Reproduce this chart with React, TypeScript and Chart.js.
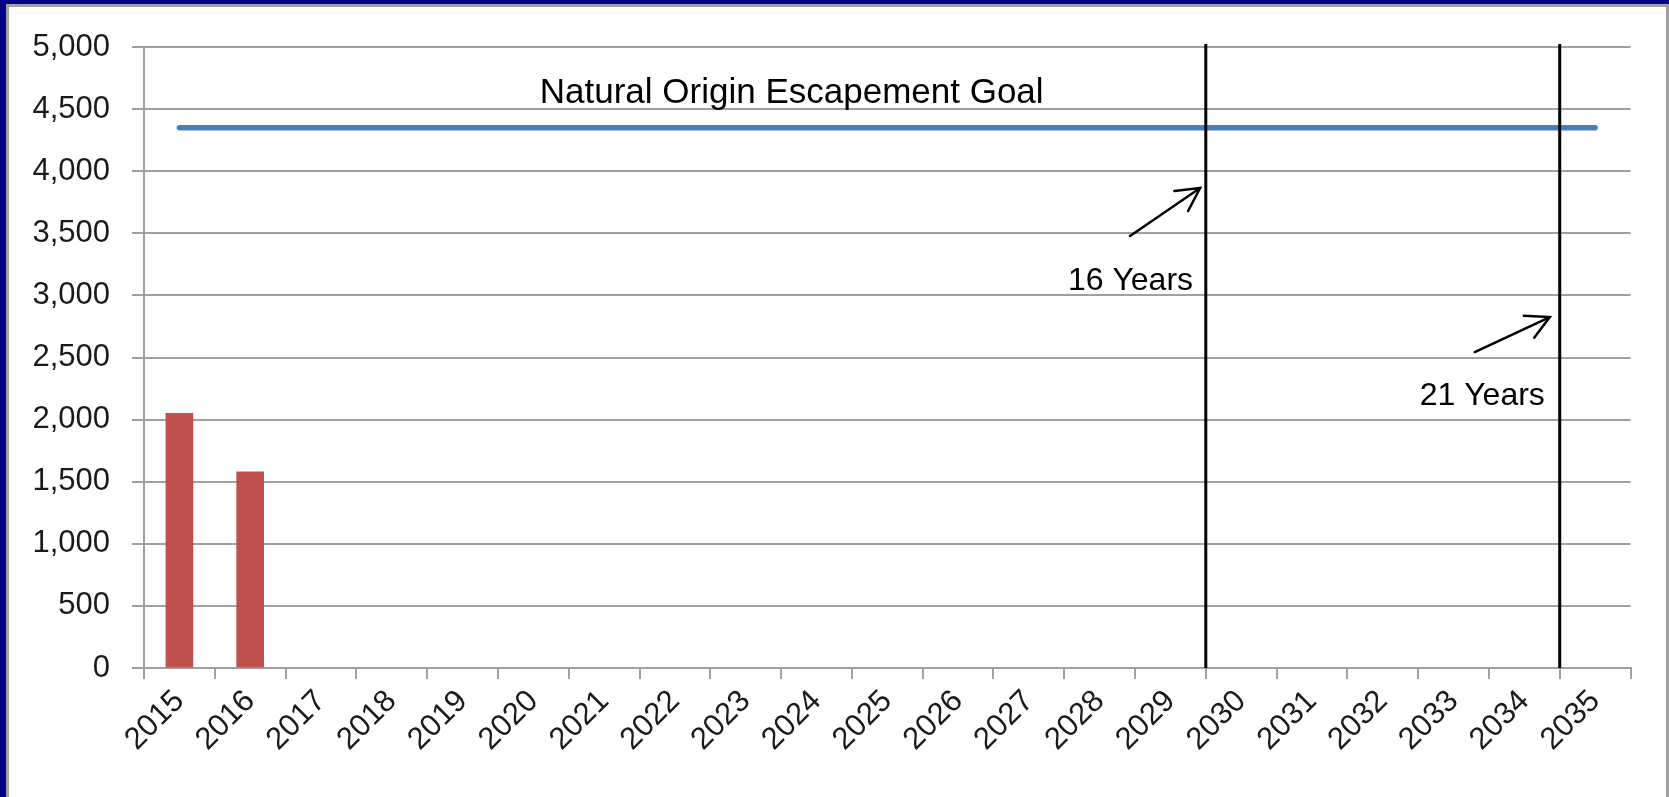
import React, { useEffect, useRef } from 'react';
import { Chart, registerables } from 'chart.js';

Chart.register(...registerables);

// ---- data ----
const years = [
  '2015', '2016', '2017', '2018', '2019', '2020', '2021', '2022', '2023', '2024', '2025',
  '2026', '2027', '2028', '2029', '2030', '2031', '2032', '2033', '2034', '2035',
];
const escapement = [
  2050, 1580, null, null, null, null, null, null, null, null, null,
  null, null, null, null, null, null, null, null, null, null,
];
const goal = [
  4350, 4350, 4350, 4350, 4350, 4350, 4350, 4350, 4350, 4350, 4350,
  4350, 4350, 4350, 4350, 4350, 4350, 4350, 4350, 4350, 4350,
];
const yMin = 0;
const yMax = 5000;
const yStep = 500;

// milestone boundaries (category index space): before 2030 and before 2035
const milestoneX = [14.5, 19.5];
const milestoneY = [0, 5025];
const milestoneLabels = ['16 Years', '21 Years'];
const arrowTails = [[13.43, 3478], [18.3, 2544]];
const arrowTips = [[14.42, 3865], [19.36, 2826]];
const milestoneLabelAnchors = [[14.32, 3043], [19.29, 2118]];
const goalLabel = 'Natural Origin Escapement Goal';
const goalLabelAnchor = [8.65, 4549];

const FONT = "'Liberation Sans', Arial, sans-serif";
const GRID = '#a0a0a0';
const TEXT = '#1a1a1a';

const annotationPlugin = {
  id: 'annotations',
  afterDatasetsDraw(chart: any) {
    const { ctx } = chart;
    const xs = chart.scales.x2;
    const ys = chart.scales.y;
    ctx.save();
    ctx.strokeStyle = '#000';
    ctx.lineWidth = 2.5;
    ctx.lineCap = 'round';
    arrowTips.forEach((tip, i) => {
      const tail = arrowTails[i];
      const tx = xs.getPixelForValue(tip[0]);
      const ty = ys.getPixelForValue(tip[1]);
      const sx = xs.getPixelForValue(tail[0]);
      const sy = ys.getPixelForValue(tail[1]);
      const back = Math.atan2(sy - ty, sx - tx);
      const len = 26;
      const spread = (28 * Math.PI) / 180;
      ctx.beginPath();
      ctx.moveTo(tx + len * Math.cos(back + spread), ty + len * Math.sin(back + spread));
      ctx.lineTo(tx, ty);
      ctx.lineTo(tx + len * Math.cos(back - spread), ty + len * Math.sin(back - spread));
      ctx.stroke();
    });
    ctx.fillStyle = '#000';
    ctx.textBaseline = 'alphabetic';
    ctx.font = `32px ${FONT}`;
    ctx.textAlign = 'right';
    milestoneLabels.forEach((t, i) => {
      const a = milestoneLabelAnchors[i];
      ctx.fillText(t, xs.getPixelForValue(a[0]), ys.getPixelForValue(a[1]));
    });
    ctx.font = `35px ${FONT}`;
    ctx.textAlign = 'center';
    ctx.fillText(goalLabel, xs.getPixelForValue(goalLabelAnchor[0]), ys.getPixelForValue(goalLabelAnchor[1]));
    ctx.restore();
  },
};

export default function App() {
  const ref = useRef<HTMLCanvasElement>(null);

  useEffect(() => {
    if (!ref.current) return;
    const lineDs = (data: any[], width: number) => ({
      type: 'line' as const,
      xAxisID: 'x2',
      data,
      borderColor: '#000',
      borderWidth: width,
      pointRadius: 0,
      fill: false,
      clip: false as any,
    });
    const chart = new Chart(ref.current, {
      type: 'line',
      data: {
        labels: years,
        datasets: [
          {
            type: 'bar',
            label: 'Escapement',
            data: escapement as any,
            backgroundColor: '#c0504d',
            grouped: false,
            barThickness: 27,
            order: 3,
          } as any,
          {
            type: 'line',
            label: 'Goal',
            data: goal,
            borderColor: '#4a7ebb',
            borderWidth: 5.5,
            borderCapStyle: 'round',
            pointRadius: 0,
            fill: false,
            order: 2,
          } as any,
          ...milestoneX.map((mx) => ({
            ...lineDs(milestoneY.map((v) => ({ x: mx, y: v })), 3),
            order: 1,
          })),
          ...arrowTails.map((t, i) => ({
            ...lineDs([{ x: t[0], y: t[1] }, { x: arrowTips[i][0], y: arrowTips[i][1] }], 2.5),
            borderCapStyle: 'round',
            order: 1,
          })),
        ] as any,
      },
      options: {
        responsive: false,
        animation: false,
        devicePixelRatio: 1,
        layout: { padding: { left: 0, right: 38.5, top: 47, bottom: 0 } },
        plugins: {
          legend: { display: false },
          tooltip: { enabled: false },
        },
        scales: {
          x: {
            type: 'category',
            offset: true,
            grid: {
              display: true,
              offset: true,
              drawOnChartArea: false,
              drawTicks: true,
              tickLength: 11,
              color: GRID,
              lineWidth: 2,
            },
            border: { display: true, color: GRID, width: 2 },
            ticks: {
              autoSkip: false,
              maxRotation: 45,
              minRotation: 45,
              padding: 4,
              color: TEXT,
              font: { family: FONT, size: 31 },
            },
            afterFit: (s: any) => {
              s.height = 129;
            },
          },
          x2: {
            type: 'linear',
            display: false,
            offset: false,
            grace: 0,
            min: -0.5,
            max: 20.5,
          },
          y: {
            min: yMin,
            max: yMax,
            ticks: {
              stepSize: yStep,
              padding: 22,
              color: TEXT,
              font: { family: FONT, size: 31 },
              callback: (v: any) => Number(v).toLocaleString('en-US'),
            },
            grid: {
              color: GRID,
              lineWidth: 2,
              tickLength: 12,
              drawTicks: true,
            },
            border: { display: true, color: GRID, width: 2 },
            afterFit: (s: any) => {
              s.width = 144;
            },
          },
        },
      } as any,
      plugins: [annotationPlugin],
    });
    return () => chart.destroy();
  }, []);

  return (
    <div
      style={{
        position: 'fixed',
        left: 0,
        top: 0,
        width: 1669,
        height: 797,
        background: '#000088',
        overflow: 'hidden',
      }}
    >
      <div
        style={{
          position: 'absolute',
          left: 6,
          top: 4,
          right: 0,
          bottom: 0,
          background: '#ffffff',
          borderLeft: '3px solid #a0a0a0',
          borderTop: '3px solid #a0a0a0',
          borderRight: '3px solid #a0a0a0',
          boxSizing: 'border-box',
        }}
      />
      <canvas
        ref={ref}
        width={1669}
        height={797}
        style={{ position: 'absolute', left: 0, top: 0, width: 1669, height: 797 }}
      />
    </div>
  );
}
